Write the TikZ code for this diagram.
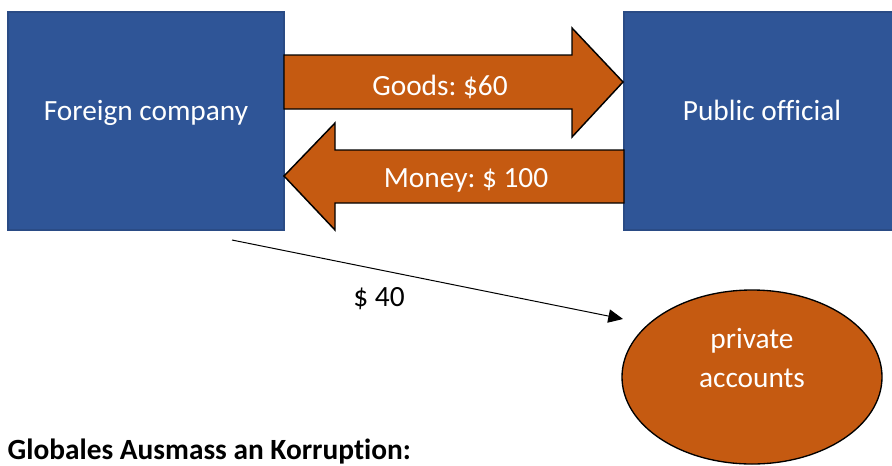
\documentclass[tikz,border=0pt]{standalone}
\usepackage{fontspec}
\setmainfont[Ligatures=NoCommon]{Carlito}
\frenchspacing
\usetikzlibrary{arrows.meta, positioning, shapes.geometric}

\definecolor{partyblue}{HTML}{2F5597}
\definecolor{partyedge}{HTML}{2A4B85}
\definecolor{flowrust}{HTML}{C55A11}

\begin{document}
\begin{tikzpicture} [x=0.75pt, y=-0.75pt, node distance = 462pt, on grid,
    party/.style = {rectangle, draw=partyedge, fill=partyblue, line width=1pt,
        minimum width=207pt, minimum height=163.5pt, text=white,
        text height=15pt, text depth=16.5pt,
        font=\fontsize{22}{27}\selectfont},
    flow/.style = {draw=black, fill=flowrust, line width=1.1pt, line join=miter},
    flowtext/.style = {text=white, font=\fontsize{22}{27}\selectfont},
    pot/.style = {ellipse, draw=black, fill=flowrust, line width=1pt,
        minimum width=195pt, minimum height=130.5pt}]

\useasboundingbox (0,0) rectangle (892,465);

\node (fc) [party] at (146,121) {Foreign company};
\node (po) [party, right = of fc] {Public official};
\node (acc) [pot] at (752,377) {};
\node (acctext) [flowtext, align=center, font=\fontsize{22}{29}\selectfont]
    at (752,358) {private\\accounts};

% goods and money
\draw [flow] (284,55) -- (572,55) -- (572,28) -- (623,82) -- (572,137)
    -- (572,109) -- (284,109) -- cycle;
\draw [flow] (624,150) -- (335,150) -- (335,123) -- (284,176) -- (335,230)
    -- (335,203) -- (624,203) -- cycle;
\node (goods) [flowtext] at (440,87) {Goods: \$60};
\node (money) [flowtext] at (466,180) {Money: \$ 100};

% the cut
\coordinate (skim) at (232,240);
\coordinate (skimend) at (623,319);
\draw [-{Triangle[length=11pt, width=10pt]}, line width=0.75pt] (skim) -- (skimend);
\node (forty) [font=\fontsize{22}{27}\selectfont] at (379,299) {\$ 40};

\node (title) [anchor=base west, font=\fontsize{22}{26}\selectfont\bfseries]
    at (3,459) {Globales Ausmass an Korruption:};

\end{tikzpicture}
\end{document}
